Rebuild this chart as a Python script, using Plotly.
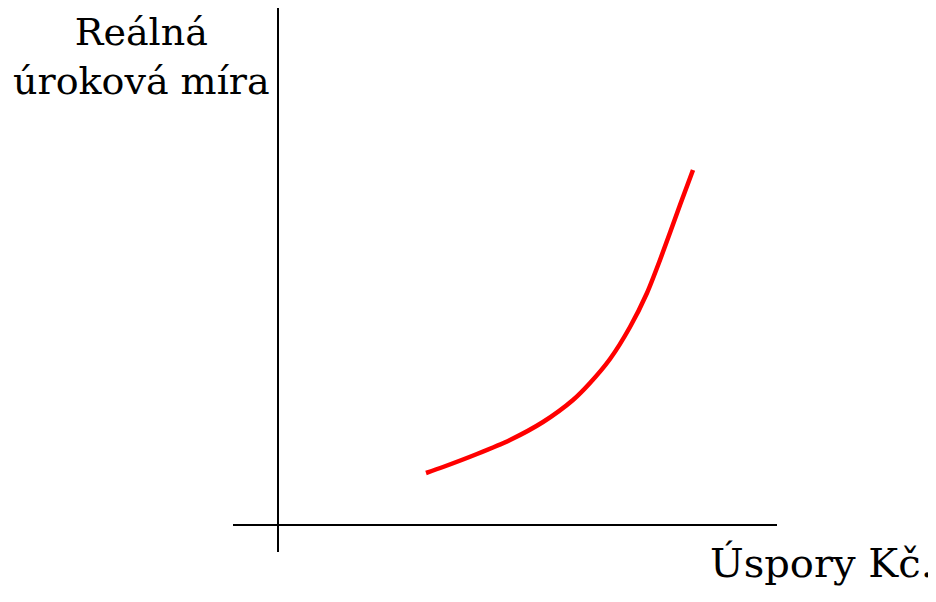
import plotly.graph_objects as go

savings = [2.96, 3.30, 3.98, 4.64, 5.30, 5.90, 6.24, 6.64, 7.04, 7.38, 7.64, 8.04, 8.30]
interest_rate = [1.04, 1.16, 1.42, 1.70, 2.06, 2.50, 2.84, 3.32, 3.96, 4.64, 5.30, 6.40, 7.10]

y_title = "Reálná<br>úroková míra"
x_title = "Úspory Kč."

# page body has an 8px margin, so the figure is 8px smaller than the window
W, H = 928, 594
L, R, T, B = 225, 159, 0, 50

fig = go.Figure()
fig.add_trace(go.Scatter(
    x=savings, y=interest_rate, mode="lines",
    line=dict(color="#ff0000", width=4.5, shape="spline", smoothing=0.7),
    hoverinfo="skip", showlegend=False,
))

axis_common = dict(showgrid=False, showticklabels=False, ticks="", showline=False,
                   zeroline=True, zerolinecolor="black", zerolinewidth=2, fixedrange=True)
fig.update_xaxes(range=[-0.9, 9.98], **axis_common)
fig.update_yaxes(range=[-0.54, 10.34], **axis_common)

pw, ph = W - L - R, H - T - B
# pixel helpers in window coordinates
def px(xw):
    return (xw - 8 - L) / pw
def py(yw):
    return (H - B - (yw - 8)) / ph

fig.add_annotation(text=y_title, xref="paper", yref="paper",
                   x=px(141), y=py(8), xanchor="center", yanchor="top",
                   align="center", showarrow=False,
                   font=dict(family="DejaVu Serif", size=38, color="black"))
fig.add_annotation(text=x_title, xref="paper", yref="paper",
                   x=px(935), y=py(538), xanchor="right", yanchor="top",
                   showarrow=False,
                   font=dict(family="DejaVu Serif", size=40, color="black"))

fig.update_layout(width=W, height=H, margin=dict(l=L, r=R, t=T, b=B),
                  paper_bgcolor="white", plot_bgcolor="white")
fig.write_html("out.html")
